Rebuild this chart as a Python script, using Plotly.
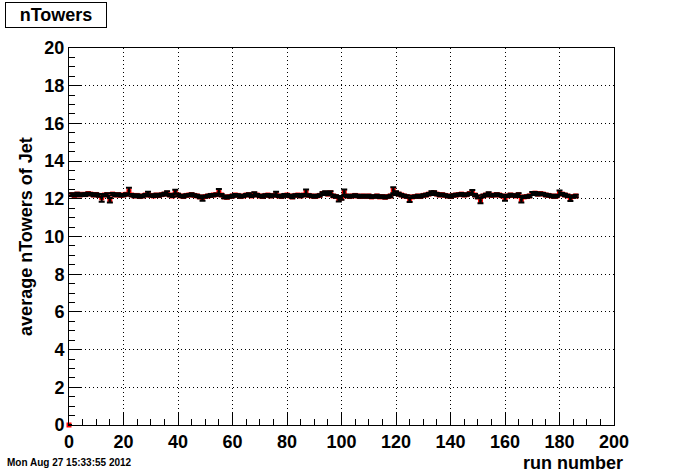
import plotly.graph_objects as go

runs = list(range(0, 187))
values = [0.0,
    12.22, 12.18, 12.25, 12.20, 12.24, 12.22, 12.28, 12.25, 12.20, 12.23,
    12.18, 12.05, 12.20, 12.22, 11.92, 12.25, 12.20, 12.22, 12.18, 12.20,
    12.24, 12.42, 12.20, 12.15, 12.18, 12.12, 12.15, 12.20, 12.28, 12.18,
    12.15, 12.20, 12.17, 12.22, 12.25, 12.30, 12.20, 12.15, 12.38, 12.20,
    12.15, 12.12, 12.18, 12.20, 12.22, 12.18, 12.15, 12.10, 12.02, 12.12,
    12.15, 12.18, 12.20, 12.22, 12.38, 12.20, 12.10, 12.08, 12.12, 12.15,
    12.20, 12.18, 12.12, 12.15, 12.20, 12.22, 12.15, 12.25, 12.20, 12.15,
    12.12, 12.18, 12.20, 12.15, 12.18, 12.28, 12.15, 12.12, 12.18, 12.20,
    12.15, 12.10, 12.18, 12.20, 12.15, 12.20, 12.35, 12.18, 12.15, 12.12,
    12.15, 12.18, 12.28, 12.30, 12.25, 12.32, 12.15, 12.12, 11.98, 12.05,
    12.35, 12.15, 12.12, 12.15, 12.18, 12.15, 12.12, 12.15, 12.12, 12.15,
    12.10, 12.12, 12.15, 12.10, 12.12, 12.08, 12.12, 12.15, 12.45, 12.30,
    12.25, 12.20, 12.15, 12.12, 11.95, 12.10, 12.12, 12.15, 12.12, 12.18,
    12.20, 12.25, 12.30, 12.32, 12.25, 12.20, 12.22, 12.18, 12.15, 12.12,
    12.18, 12.20, 12.22, 12.25, 12.20, 12.22, 12.28, 12.35, 12.20, 12.10,
    11.90, 12.15, 12.20, 12.25, 12.18, 12.20, 12.22, 12.20, 12.15, 12.02,
    12.15, 12.20, 12.18, 12.15, 12.22, 11.95, 12.10, 12.12, 12.15, 12.28,
    12.30, 12.25, 12.28, 12.25, 12.20, 12.18, 12.15, 12.12, 12.15, 12.32,
    12.25, 12.20, 12.15, 12.00, 12.12, 12.15]
errors = [0.0,
    .07, .06, .07, .06, .06, .07, .06, .06, .07, .06,
    .07, .20, .06, .07, .12, .06, .06, .07, .06, .06,
    .06, .16, .06, .07, .06, .06, .07, .06, .10, .06,
    .06, .07, .06, .06, .07, .10, .06, .06, .10, .07,
    .06, .07, .06, .06, .07, .06, .06, .07, .12, .06,
    .06, .07, .06, .06, .14, .06, .07, .06, .06, .07,
    .06, .06, .07, .06, .06, .07, .06, .10, .06, .06,
    .07, .06, .06, .07, .06, .10, .06, .06, .07, .06,
    .06, .07, .06, .06, .07, .06, .14, .06, .06, .07,
    .06, .06, .07, .10, .06, .08, .06, .07, .12, .10,
    .14, .06, .07, .06, .06, .07, .06, .06, .07, .06,
    .06, .07, .06, .06, .07, .06, .06, .07, .16, .10,
    .07, .06, .06, .07, .12, .06, .06, .07, .06, .06,
    .07, .06, .10, .08, .06, .07, .06, .06, .07, .06,
    .06, .07, .06, .06, .07, .06, .06, .12, .06, .07,
    .14, .06, .07, .10, .06, .06, .07, .06, .06, .12,
    .06, .07, .06, .06, .07, .14, .06, .06, .07, .08,
    .06, .07, .06, .06, .07, .06, .06, .07, .06, .12,
    .06, .07, .06, .12, .06, .07]
xerr = [0.0] + [0.5] * 186

title_text = "nTowers"
x_title = "run number"
y_title = "average nTowers of Jet"
date_text = "Mon Aug 27 15:33:55 2012"

FONT = "Liberation Sans"

fig = go.Figure()
# red markers underneath
fig.add_trace(go.Scatter(
    x=runs, y=values, mode="markers",
    marker=dict(symbol="square", size=5, color="red", line=dict(width=0)),
    showlegend=False, cliponaxis=False, hoverinfo="skip",
))
# black error bars on top
fig.add_trace(go.Scatter(
    x=runs, y=values, mode="markers",
    marker=dict(size=1, color="rgba(0,0,0,0)"),
    error_y=dict(type="data", array=errors, visible=True, color="black", thickness=2, width=3),
    error_x=dict(type="data", array=xerr, visible=True, color="black", thickness=2, width=0),
    showlegend=False, cliponaxis=False,
))

axis_common = dict(
    showline=True, linecolor="black", linewidth=1, mirror=True,
    ticks="inside", tickcolor="black", ticklen=12, tickwidth=1,
    showgrid=True, gridcolor="black", gridwidth=1, griddash="1px,3px",
    zeroline=False,
    tickfont=dict(family=FONT, size=18, color="black", weight="bold"),
)
fig.update_xaxes(range=[0, 200], dtick=20, tick0=0,
                 minor=dict(dtick=5, ticks="inside", ticklen=6, tickcolor="black", showgrid=False),
                 **axis_common)
fig.update_yaxes(range=[0, 20], dtick=2, tick0=0,
                 minor=dict(dtick=0.5, ticks="inside", ticklen=6, tickcolor="black", showgrid=False),
                 **axis_common)

fig.update_layout(
    width=696, height=472,
    margin=dict(l=69, r=82, t=48, b=47),
    paper_bgcolor="white", plot_bgcolor="white",
    annotations=[
        dict(text=title_text, xref="paper", yref="paper", x=-0.117, y=1.0875, xanchor="left", yanchor="middle",
             showarrow=False, bordercolor="black", borderwidth=1, borderpad=2, bgcolor="white",
             font=dict(family=FONT, size=18, color="black", weight="bold"), width=96, align="center"),
        dict(text=x_title, xref="paper", yref="paper", x=1.02, y=-0.1, xanchor="right", yanchor="middle",
             showarrow=False, font=dict(family=FONT, size=18, color="black", weight="bold")),
        dict(text=y_title, xref="paper", yref="paper", x=-0.08, y=0.5, xanchor="center", yanchor="middle",
             textangle=-90, showarrow=False, font=dict(family=FONT, size=18, color="black", weight="bold")),
        dict(text=date_text, xref="paper", yref="paper", x=-0.118, y=-0.1, xanchor="left", yanchor="middle",
             showarrow=False, font=dict(family=FONT, size=10, color="black", weight="bold")),
    ],
)

fig.write_html("out.html", config={"displayModeBar": False},
               post_script="document.body.style.margin='0';document.body.style.padding='0';")
